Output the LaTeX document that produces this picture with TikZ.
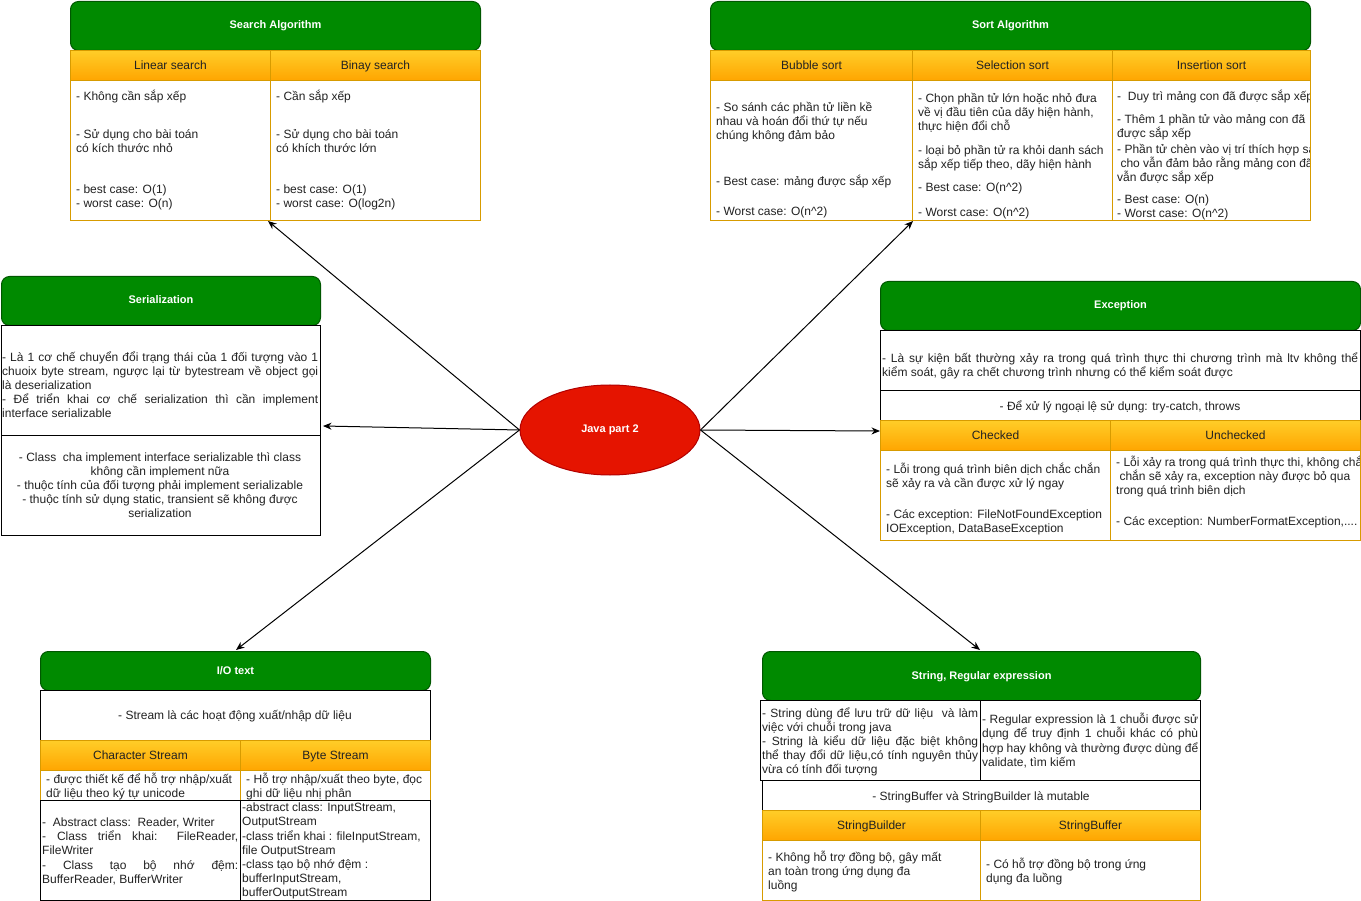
\documentclass[tikz,border=0pt]{standalone}
\usepackage{fontspec}
\setmainfont{Liberation Sans}
\usetikzlibrary{arrows.meta,shapes.geometric}
\definecolor{gfill}{HTML}{008A00}
\definecolor{gline}{HTML}{005700}
\definecolor{otop}{HTML}{FFCD28}
\definecolor{obot}{HTML}{FFA500}
\definecolor{oline}{HTML}{D79B00}
\definecolor{rfill}{HTML}{E51400}
\definecolor{rline}{HTML}{B20000}
\definecolor{ink}{HTML}{222222}
\newcommand\tl[2]{\parbox[t]{#1}{\raggedright\lineskiplimit=-40pt #2}}
\newcommand\tcen[2]{\parbox[t]{#1}{\centering\lineskiplimit=-40pt #2}}
\newcommand\jl[2]{\makebox[#1][s]{#2}}
\newcommand\fs{\fontsize{12}{14}\selectfont}
\newcommand\sq{\textasciicircum}
\tikzset{
  hdr/.style={draw=gline, fill=gfill, rounded corners=8pt, line width=1pt, anchor=north west, inner sep=0, text height=8.5pt, text depth=2.5pt, text=white, font=\fontsize{11}{13}\selectfont\bfseries},
  ohead/.style={draw=oline, top color=otop, bottom color=obot, line width=1pt, anchor=north west, inner sep=0, text height=10pt, text depth=1.5pt, text=ink, font=\fs},
  ocell/.style={draw=oline, fill=white, line width=1pt, anchor=north west, inner sep=0},
  bcell/.style={draw=black, fill=white, line width=1pt, anchor=north west, inner sep=0},
  txt/.style={inner sep=0, anchor=base west, yshift=-1.5pt, text=ink, font=\fs},
  ctxt/.style={inner sep=0, anchor=base, yshift=-1.5pt, text=ink, font=\fs},
  link/.style={draw=black, line width=1pt, -{Stealth[length=8.5pt,width=7pt]}},
}
\begin{document}
\begin{tikzpicture}[x=1pt,y=-1pt]
\useasboundingbox (0,0) rectangle (1361,901);
\fill[white] (0,0) rectangle (1361,901);

% ---------- Search Algorithm ----------
\node[hdr, minimum width=410, minimum height=49] (searchH) at (70,1) {Search Algorithm};
\node[ohead, minimum width=200, minimum height=30] (linH) at (70,50) {Linear search};
\node[ohead, minimum width=210, minimum height=30] (binH) at (270,50) {Binay search};
\node[ocell, minimum width=200, minimum height=140] (linB) at (70,80) {};
\node[ocell, minimum width=210, minimum height=140] (binB) at (270,80) {};
\node[txt] (linT) at (76,99) {\tl{400pt}{- Không cần sắp xếp\\[24pt]- Sử dụng cho bài toán\\có kích thước nhỏ\\[27pt]- best case: O(1)\\- worst case: O(n)}};
\node[txt] (binT) at (276,99) {\tl{400pt}{- Cần sắp xếp\\[24pt]- Sử dụng cho bài toán\\có khích thước lớn\\[27pt]- best case: O(1)\\- worst case: O(log2n)}};

% ---------- Sort Algorithm ----------
\node[hdr, minimum width=600, minimum height=49] (sortH) at (710,1) {Sort Algorithm};
\node[ohead, minimum width=202, minimum height=30] (bubH) at (710,50) {Bubble sort};
\node[ohead, minimum width=200, minimum height=30] (selH) at (912,50) {Selection sort};
\node[ohead, minimum width=198, minimum height=30] (insH) at (1112,50) {Insertion sort};
\node[ocell, minimum width=202, minimum height=140] (bubB) at (710,80) {};
\node[ocell, minimum width=200, minimum height=140] (selB) at (912,80) {};
\node[ocell, minimum width=198, minimum height=140] (insB) at (1112,80) {};
\node[txt] (bubT) at (716,110) {\tl{400pt}{- So sánh các phần tử liền kề\\nhau và hoán đổi thứ tự nếu\\chúng không đảm bảo\\[32pt]- Best case: mảng được sắp xếp\\[16pt]- Worst case: O(n\sq2)}};
\node[txt] (selT) at (918,101) {\tl{400pt}{- Chọn phần tử lớn hoặc nhỏ đưa\\về vị đầu tiên của dãy hiện hành,\\thực hiện đổi chỗ\\[10pt]- loại bỏ phần tử ra khỏi danh sách\\sắp xếp tiếp theo, dãy hiện hành\\[9pt]- Best case: O(n\sq2)\\[11pt]- Worst case: O(n\sq2)}};
\begin{scope}
\clip (1112.5,80.5) rectangle (1309.5,219.5);
\node[txt] (insT) at (1117,99) {\tl{400pt}{-\ \ Duy trì mảng con đã được sắp xếp\\[9pt]- Thêm 1 phần tử vào mảng con đã\\được sắp xếp\\[2pt]- Phần tử chèn vào vị trí thích hợp sao\\\ cho vẫn đảm bảo rằng mảng con đã\\vẫn được sắp xếp\\[8pt]- Best case: O(n)\\- Worst case: O(n\sq2)}};
\end{scope}

% ---------- Serialization ----------
\node[hdr, minimum width=319, minimum height=49] (serH) at (1,276) {Serialization};
\node[bcell, minimum width=319, minimum height=110] (ser1) at (1,325) {};
\node[bcell, minimum width=319, minimum height=100] (ser2) at (1,435) {};
\node[txt] (ser1T) at (2,360) {\tl{400pt}{\jl{316pt}{- Là 1 cơ chế chuyển đổi trạng thái của 1 đối tượng vào 1}\\\jl{316pt}{chuoix byte stream, ngược lại từ bytestream về object gọi}\\là deserialization\\\jl{316pt}{- Để triển khai cơ chế serialization thì cần implement}\\interface serializable}};
\node[ctxt] (ser2T) at (160,460) {\tcen{400pt}{- Class\ \ cha implement interface serializable thì class\\không cần implement nữa\\- thuộc tính của đối tượng phải implement serializable\\- thuộc tính sử dụng static, transient sẽ không được\\serialization}};

% ---------- Exception ----------
\node[hdr, minimum width=480, minimum height=49] (excH) at (880,281) {Exception};
\node[bcell, minimum width=480, minimum height=60] (exc1) at (880,330) {};
\node[bcell, minimum width=480, minimum height=30] (exc2) at (880,390) {};
\node[txt] (exc1T) at (882,361) {\tl{500pt}{\jl{476pt}{- Là sự kiện bất thường xảy ra trong quá trình thực thi chương trình mà ltv không thể}\\kiểm soát, gây ra chết chương trình nhưng có thể kiểm soát được}};
\node[ctxt] (exc2T) at (1120,409) {- Để xử lý ngoại lệ sử dụng: try-catch, throws};
\node[ohead, minimum width=230, minimum height=30] (chkH) at (880,420) {Checked};
\node[ohead, minimum width=250, minimum height=30] (unchH) at (1110,420) {Unchecked};
\node[ocell, minimum width=230, minimum height=90] (chkB) at (880,450) {};
\node[ocell, minimum width=250, minimum height=90] (unchB) at (1110,450) {};
\node[txt] (chkT) at (886,472) {\tl{400pt}{- Lỗi trong quá trình biên dịch chắc chắn\\sẽ xảy ra và cần được xử lý ngay\\[17pt]- Các exception: FileNotFoundException\\IOException, DataBaseException}};
\begin{scope}
\clip (1110.5,450.5) rectangle (1359.5,539.5);
\node[txt] (unchT) at (1116,465) {\tl{400pt}{- Lỗi xảy ra trong quá trình thực thi, không chắc\\\ chắn sẽ xảy ra, exception này được bỏ qua\\trong quá trình biên dịch\\[17pt]- Các exception: NumberFormatException,....}};
\end{scope}

% ---------- I/O text ----------
\node[hdr, minimum width=390, minimum height=39] (ioH) at (40,651) {I/O text};
\node[bcell, minimum width=390, minimum height=50] (io1) at (40,690) {};
\node[ctxt] (io1T) at (235,718) {- Stream là các hoạt động xuất/nhập dữ liệu};
\node[ohead, minimum width=200, minimum height=30] (chsH) at (40,740) {Character Stream};
\node[ohead, minimum width=190, minimum height=30] (bysH) at (240,740) {Byte Stream};
\node[ocell, minimum width=200, minimum height=30] (chs1) at (40,770) {};
\node[ocell, minimum width=190, minimum height=30] (bys1) at (240,770) {};
\node[txt] (chs1T) at (46,782) {\tl{400pt}{- được thiết kế để hỗ trợ nhập/xuất\\dữ liệu theo ký tự unicode}};
\node[txt] (bys1T) at (246,782) {\tl{400pt}{- Hỗ trợ nhập/xuất theo byte, đọc\\ghi dữ liệu nhị phân}};
\node[bcell, minimum width=200, minimum height=100] (chs2) at (40,800) {};
\node[bcell, minimum width=190, minimum height=100] (bys2) at (240,800) {};
\node[txt] (chs2T) at (42,825) {\tl{400pt}{-\ \ Abstract class:\ \ Reader, Writer\\\jl{196pt}{- Class triển khai: FileReader,}\\FileWriter\\[0.5pt]\jl{196pt}{- Class tạo bộ nhớ đệm:}\\BufferReader, BufferWriter}};
\node[txt] (bys2T) at (242,810) {\tl{400pt}{-abstract class: InputStream,\\OutputStream\\[0.5pt]-class triển khai : fileInputStream,\\file OutputStream\\[0.5pt]-class tạo bộ nhớ đệm :\\bufferInputStream,\\bufferOutputStream}};

% ---------- String, Regular expression ----------
\node[hdr, minimum width=438, minimum height=49] (strH) at (762,651) {String, Regular expression};
\node[bcell, minimum width=220, minimum height=80] (str1) at (760,700) {};
\node[bcell, minimum width=220, minimum height=80] (str2) at (980,700) {};
\node[txt] (str1T) at (762,716) {\tl{400pt}{\jl{216pt}{- String dùng để lưu trữ dữ liệu\ \ và làm}\\việc với chuỗi trong java\\\jl{216pt}{- String là kiểu dữ liệu đặc biệt không}\\\jl{216pt}{thể thay đổi dữ liệu,có tính nguyên thủy}\\vừa có tính đối tượng}};
\node[txt] (str2T) at (982,722) {\tl{400pt}{\jl{216pt}{- Regular expression là 1 chuỗi được sử}\\\jl{216pt}{dụng để truy định 1 chuỗi khác có phù}\\[0.5pt]\jl{216pt}{hợp hay không và thường được dùng để}\\validate, tìm kiếm}};
\node[bcell, minimum width=438, minimum height=30] (str3) at (762,780) {};
\node[ctxt] (str3T) at (981,799) {- StringBuffer và StringBuilder là mutable};
\node[ohead, minimum width=218, minimum height=30] (sbdH) at (762,810) {StringBuilder};
\node[ohead, minimum width=220, minimum height=30] (sbfH) at (980,810) {StringBuffer};
\node[ocell, minimum width=218, minimum height=60] (sbdB) at (762,840) {};
\node[ocell, minimum width=220, minimum height=60] (sbfB) at (980,840) {};
\node[txt] (sbdT) at (768,860) {\tl{400pt}{- Không hỗ trợ đồng bộ, gây mất\\an toàn trong ứng dụng đa\\luồng}};
\node[txt] (sbfT) at (986,867) {\tl{400pt}{- Có hỗ trợ đồng bộ trong ứng\\dụng đa luồng}};

% ---------- centre ----------
\node[ellipse, fill=rfill, draw=rline, line width=1pt, minimum width=180, minimum height=90, inner sep=0, text=white, font=\fontsize{11}{13}\selectfont\bfseries] (java) at (610,430) {Java part 2};

\coordinate (tSearch) at (268,221);
\coordinate (tSort) at (913,221);
\coordinate (tSer) at (323,426);
\coordinate (tExc) at (880,431);
\coordinate (tIO) at (236,650);
\coordinate (tStr) at (980,650);

\draw[link] (java.west) -- (tSearch);
\draw[link] (java.west) -- (tSer);
\draw[link] (java.west) -- (tIO);
\draw[link] (java.east) -- (tSort);
\draw[link] (java.east) -- (tExc);
\draw[link] (java.east) -- (tStr);
\end{tikzpicture}
\end{document}
